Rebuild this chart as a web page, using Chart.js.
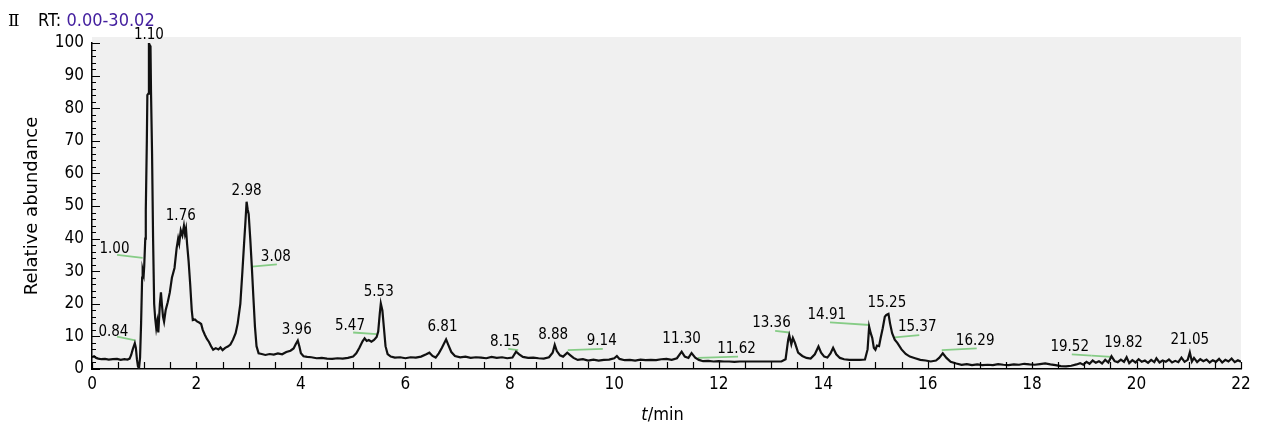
<!DOCTYPE html>
<html>
<head>
<meta charset="utf-8">
<script src="https://cdn.jsdelivr.net/npm/chart.js@4"></script>
<style>
  html, body { margin: 0; padding: 0; background: #fff; }
  #wrap { position: relative; width: 1264px; height: 435px; }
</style>
</head>
<body>
<div id="wrap"><canvas id="tic"></canvas></div>
<script>
// Chromatogram trace (retention time in min, relative abundance in %)
const traceTime = [
  0.00, 0.04, 0.08, 0.12, 0.18, 0.25, 0.32, 0.40, 0.48, 0.55, 0.62, 0.68, 0.72, 0.75, 0.78, 0.82, 0.84, 0.86, 0.88, 0.90,
  0.92, 0.94, 0.96, 0.97, 0.99, 1.00, 1.02, 1.03, 1.05, 1.06, 1.08, 1.09, 1.10, 1.12, 1.13, 1.15, 1.17, 1.19, 1.21, 1.23,
  1.25, 1.27, 1.30, 1.32, 1.34, 1.36, 1.38, 1.41, 1.45, 1.49, 1.53, 1.58, 1.62, 1.65, 1.67, 1.70, 1.73, 1.76, 1.78, 1.80,
  1.82, 1.85, 1.88, 1.91, 1.93, 1.97, 2.01, 2.05, 2.09, 2.12, 2.16, 2.20, 2.24, 2.28, 2.32, 2.37, 2.42, 2.46, 2.50, 2.55,
  2.60, 2.65, 2.70, 2.75, 2.79, 2.84, 2.88, 2.91, 2.94, 2.96, 2.98, 3.00, 3.03, 3.06, 3.09, 3.12, 3.15, 3.19, 3.25, 3.32,
  3.40, 3.48, 3.56, 3.64, 3.72, 3.80, 3.86, 3.90, 3.94, 3.97, 4.00, 4.05, 4.12, 4.20, 4.30, 4.40, 4.50, 4.60, 4.70, 4.80,
  4.90, 5.00, 5.06, 5.12, 5.18, 5.22, 5.26, 5.30, 5.35, 5.40, 5.45, 5.48, 5.51, 5.53, 5.56, 5.59, 5.62, 5.66, 5.72, 5.80,
  5.90, 6.00, 6.10, 6.20, 6.30, 6.40, 6.46, 6.52, 6.58, 6.64, 6.70, 6.78, 6.82, 6.88, 6.95, 7.05, 7.15, 7.25, 7.35, 7.45,
  7.55, 7.65, 7.75, 7.85, 7.95, 8.05, 8.12, 8.18, 8.25, 8.35, 8.45, 8.55, 8.65, 8.75, 8.82, 8.86, 8.90, 8.96, 9.02, 9.10,
  9.16, 9.22, 9.30, 9.40, 9.50, 9.60, 9.70, 9.80, 9.90, 10.00, 10.05, 10.10, 10.20, 10.30, 10.40, 10.50, 10.60, 10.70, 10.80, 10.90,
  11.00, 11.10, 11.20, 11.29, 11.35, 11.42, 11.48, 11.55, 11.62, 11.70, 11.80, 11.90, 12.00, 12.10, 12.20, 12.30, 12.40, 12.60, 12.80, 13.00,
  13.20, 13.28, 13.33, 13.35, 13.39, 13.42, 13.46, 13.52, 13.60, 13.68, 13.76, 13.84, 13.91, 13.96, 14.02, 14.08, 14.14, 14.19, 14.25, 14.32,
  14.40, 14.50, 14.60, 14.70, 14.80, 14.85, 14.88, 14.91, 14.94, 14.97, 15.00, 15.03, 15.07, 15.10, 15.14, 15.18, 15.21, 15.25, 15.28, 15.32,
  15.37, 15.42, 15.50, 15.58, 15.66, 15.76, 15.86, 15.96, 16.06, 16.16, 16.22, 16.29, 16.36, 16.44, 16.55, 16.65, 16.75, 16.85, 16.95, 17.05,
  17.15, 17.25, 17.35, 17.45, 17.55, 17.65, 17.75, 17.85, 17.95, 18.05, 18.15, 18.25, 18.35, 18.45, 18.55, 18.65, 18.75, 18.85, 18.92, 18.98,
  19.04, 19.10, 19.16, 19.22, 19.28, 19.34, 19.40, 19.46, 19.52, 19.58, 19.64, 19.70, 19.76, 19.81, 19.86, 19.92, 19.98, 20.04, 20.10, 20.16,
  20.22, 20.28, 20.34, 20.38, 20.44, 20.50, 20.56, 20.62, 20.68, 20.74, 20.80, 20.86, 20.92, 20.98, 21.02, 21.06, 21.10, 21.16, 21.22, 21.28,
  21.34, 21.40, 21.46, 21.52, 21.58, 21.64, 21.70, 21.76, 21.82, 21.88, 21.94, 22.00
];
const traceAbund = [
  3.6, 3.9, 3.4, 3.2, 3.0, 3.1, 2.9, 3.0, 3.1, 2.8, 3.0, 2.9, 3.2, 4.3, 6.0, 7.9, 6.5, 3.0, 0.8, 0.2,
  3.5, 14.0, 28.0, 30.4, 29.0, 31.6, 40.0, 48.8, 70.0, 84.0, 84.5, 100, 99.5, 99.0, 85.0, 66.0, 39.6, 20.0, 15.5, 12.5,
  14.5, 11.2, 20.0, 23.5, 19.5, 16.0, 14.5, 18.0, 20.5, 23.5, 28.0, 31.0, 37.0, 40.0, 38.5, 42.5, 41.0, 43.9, 41.5, 43.0,
  38.5, 33.0, 26.0, 18.0, 15.0, 15.2, 14.6, 14.3, 13.8, 12.0, 10.5, 9.2, 8.3, 7.0, 5.9, 6.4, 6.0, 6.6, 5.8, 6.5,
  6.9, 7.5, 9.0, 11.0, 14.0, 20.0, 30.0, 38.0, 45.7, 51.3, 49.0, 47.5, 40.0, 31.4, 22.0, 13.0, 7.0, 4.8, 4.6, 4.3,
  4.6, 4.4, 4.8, 4.5, 5.2, 5.6, 6.3, 7.6, 8.7, 7.0, 4.8, 3.9, 3.7, 3.6, 3.3, 3.4, 3.2, 3.1, 3.3, 3.2,
  3.4, 3.8, 4.8, 6.5, 8.5, 9.4, 8.6, 8.9, 8.4, 8.9, 9.8, 11.5, 17.0, 20.1, 18.0, 12.5, 7.0, 4.6, 3.8, 3.5,
  3.6, 3.3, 3.6, 3.5, 3.8, 4.5, 5.0, 4.0, 3.5, 4.8, 6.5, 9.1, 7.5, 5.2, 4.0, 3.6, 3.8, 3.4, 3.6, 3.5,
  3.3, 3.7, 3.4, 3.6, 3.3, 3.5, 5.3, 4.5, 3.7, 3.4, 3.5, 3.3, 3.2, 3.6, 5.0, 7.4, 5.5, 4.2, 3.8, 5.0,
  4.2, 3.4, 2.8, 3.0, 2.6, 2.9, 2.6, 2.8, 2.9, 3.3, 4.0, 3.1, 2.7, 2.8, 2.6, 2.9, 2.7, 2.8, 2.7, 3.0,
  3.1, 2.8, 3.3, 5.3, 3.8, 3.4, 4.9, 3.5, 2.8, 2.4, 2.5, 2.3, 2.4, 2.3, 2.3, 2.2, 2.3, 2.3, 2.3, 2.3,
  2.3, 3.0, 9.0, 10.4, 7.6, 9.5, 8.0, 5.0, 4.0, 3.4, 3.2, 4.5, 6.9, 5.0, 3.8, 3.5, 4.8, 6.5, 4.5, 3.4,
  3.0, 2.8, 2.8, 2.8, 2.9, 6.0, 13.0, 11.0, 9.5, 6.5, 5.9, 7.2, 7.0, 9.5, 12.5, 16.0, 16.6, 16.9, 14.0, 11.0,
  9.0, 8.0, 6.0, 4.6, 3.8, 3.3, 2.8, 2.6, 2.3, 2.6, 3.4, 4.8, 3.4, 2.2, 1.7, 1.3, 1.5, 1.2, 1.4, 1.2,
  1.3, 1.2, 1.5, 1.3, 1.2, 1.4, 1.3, 1.6, 1.4, 1.3, 1.5, 1.7, 1.4, 1.2, 0.9, 0.8, 1.0, 1.4, 1.8, 1.3,
  2.2, 1.6, 2.6, 1.9, 2.4, 1.7, 2.8, 2.0, 3.9, 2.4, 2.1, 2.9, 2.2, 3.6, 1.8, 2.7, 2.0, 3.0, 2.2, 2.6,
  1.9, 2.8, 2.1, 3.3, 2.0, 2.6, 2.2, 2.9, 2.0, 2.5, 2.1, 3.5, 2.2, 2.8, 5.1, 2.3, 3.4, 2.1, 3.0, 2.4,
  2.9, 2.0, 2.7, 2.2, 3.1, 2.0, 2.8, 2.3, 3.2, 2.1, 2.7, 2.2
];

// Peak annotations: text and where the text sits (min, %)
const peakLabels = ['0.84', '1.00', '1.10', '1.76', '2.98', '3.08', '3.96', '5.47', '5.53', '6.81', '8.15', '8.88',
  '9.14', '11.30', '11.62', '13.36', '14.91', '15.25', '15.37', '16.29', '19.52', '19.82', '21.05'];
const peakLabelTime = [0.41, 0.43, 1.09, 1.70, 2.96, 3.52, 3.92, 4.94, 5.49, 6.71, 7.91, 8.83,
  9.76, 11.29, 12.34, 13.01, 14.07, 15.22, 15.80, 16.91, 18.72, 19.75, 21.02];
const peakLabelAbund = [11.4, 36.8, 102.5, 47.0, 54.7, 34.3, 12.0, 13.3, 23.7, 12.7, 8.4, 10.4,
  8.6, 9.1, 6.1, 14.2, 16.5, 20.3, 12.7, 8.6, 6.8, 7.9, 8.9];

// Green leader lines under some of the labels
const leaderStartTime = [0.48, 0.48, 3.06, 5.00, 7.97, 9.11, 11.60, 13.08, 14.13, 15.37, 16.27, 18.76, 19.14];
const leaderEndTime = [0.83, 0.97, 3.54, 5.45, 8.16, 9.78, 12.37, 13.35, 14.89, 15.84, 16.94, 19.14, 19.52];
const leaderStartAbund = [9.9, 35.0, 31.4, 11.2, 6.2, 5.8, 3.4, 11.7, 14.3, 9.7, 5.8, 4.5, 4.1];
const leaderEndAbund = [8.8, 34.1, 32.1, 10.7, 5.8, 6.2, 3.8, 11.2, 13.5, 10.4, 6.3, 4.1, 3.7];

const FONT = "'DejaVu Sans Condensed', 'DejaVu Sans', sans-serif";

// Grey plot panel behind the trace
const panelBackground = {
  id: 'panelBackground',
  beforeDraw(chart) {
    const { ctx, chartArea } = chart;
    ctx.save();
    ctx.fillStyle = '#f0f0f0';
    ctx.fillRect(chartArea.left, chartArea.top - 6, chartArea.right - chartArea.left, chartArea.bottom - chartArea.top + 6);
    ctx.restore();
  }
};

// Inward tick marks on both axes
const inwardTicks = {
  id: 'inwardTicks',
  afterDraw(chart) {
    const { ctx, chartArea, scales } = chart;
    ctx.save();
    ctx.strokeStyle = '#000';
    ctx.lineWidth = 1.2;
    ctx.beginPath();
    for (let v = 0; v <= 100; v += 2) {
      const y = Math.round(scales.y.getPixelForValue(v)) + 0.5;
      const len = v % 10 === 0 ? 8 : 4;
      ctx.moveTo(chartArea.left, y);
      ctx.lineTo(chartArea.left + len, y);
    }
    for (let t = 0; t <= 22; t += 0.5) {
      const x = Math.round(scales.x.getPixelForValue(t)) + 0.5;
      ctx.moveTo(x, chartArea.bottom);
      ctx.lineTo(x, chartArea.bottom - 7);
    }
    ctx.stroke();
    ctx.restore();
  }
};

// Retention time labels over the peaks
const peakText = {
  id: 'peakText',
  afterDatasetsDraw(chart) {
    const { ctx, scales } = chart;
    ctx.save();
    ctx.fillStyle = '#000';
    ctx.font = '15px ' + FONT;
    ctx.textAlign = 'center';
    ctx.textBaseline = 'middle';
    peakLabels.forEach((txt, i) => {
      ctx.fillText(txt, scales.x.getPixelForValue(peakLabelTime[i]), scales.y.getPixelForValue(peakLabelAbund[i]));
    });
    ctx.restore();
  }
};

// Header line and the x axis title with an italic t
const extraText = {
  id: 'extraText',
  afterDraw(chart) {
    const { ctx, chartArea } = chart;
    ctx.save();
    ctx.textBaseline = 'alphabetic';
    ctx.textAlign = 'left';
    ctx.fillStyle = '#000';
    ctx.font = "17px 'DejaVu Serif', 'Liberation Serif', serif";
    ctx.fillText('\u2161', 8, 26);
    ctx.font = '18px ' + FONT;
    ctx.fillText('RT: ', 38, 26);
    const w = ctx.measureText('RT: ').width;
    ctx.fillStyle = '#44209f';
    ctx.fillText('0.00-30.02', 38 + w, 26);

    ctx.fillStyle = '#000';
    ctx.font = 'italic 18px ' + FONT;
    const tW = ctx.measureText('t').width;
    ctx.font = '18px ' + FONT;
    const restW = ctx.measureText('/min').width;
    const cx = (chartArea.left + chartArea.right) / 2 - 4;
    const x0 = cx - (tW + restW) / 2;
    ctx.textBaseline = 'middle';
    ctx.font = 'italic 18px ' + FONT;
    ctx.fillText('t', x0, 415);
    ctx.font = '18px ' + FONT;
    ctx.fillText('/min', x0 + tW, 415);
    ctx.restore();
  }
};

const datasets = [{
  data: traceTime.map((t, i) => ({ x: t, y: traceAbund[i] })),
  borderColor: '#111',
  borderWidth: 2.2,
  pointRadius: 0,
  tension: 0,
  order: 0
}];
leaderStartTime.forEach((t, i) => {
  datasets.push({
    data: [{ x: t, y: leaderStartAbund[i] }, { x: leaderEndTime[i], y: leaderEndAbund[i] }],
    borderColor: '#86cc86',
    borderWidth: 1.8,
    pointRadius: 0,
    order: 1
  });
});

new Chart(document.getElementById('tic'), {
  type: 'line',
  data: { datasets: datasets },
  options: {
    responsive: true,
    maintainAspectRatio: false,
    animation: false,
    layout: { padding: { top: 43, right: 23, left: 0, bottom: 0 } },
    plugins: { legend: { display: false }, tooltip: { enabled: false } },
    scales: {
      x: {
        type: 'linear',
        min: 0,
        max: 22,
        grid: { display: false, drawTicks: false },
        border: { display: true, color: '#000', width: 1.5 },
        ticks: { stepSize: 2, padding: 5, color: '#000', font: { family: FONT, size: 17 }, maxRotation: 0 },
        afterFit(scale) { scale.height = 66; }
      },
      y: {
        min: 0,
        max: 100,
        grid: { display: false, drawTicks: false },
        border: { display: true, color: '#000', width: 1.5 },
        ticks: { stepSize: 10, padding: 8, color: '#000', font: { family: FONT, size: 17 } },
        title: { display: true, text: 'Relative abundance', color: '#000', font: { family: "'DejaVu Sans', sans-serif", size: 18 }, padding: { top: 22, bottom: 0 } },
        afterFit(scale) { scale.width = 92; }
      }
    }
  },
  plugins: [panelBackground, inwardTicks, peakText, extraText]
});
</script>
</body>
</html>
